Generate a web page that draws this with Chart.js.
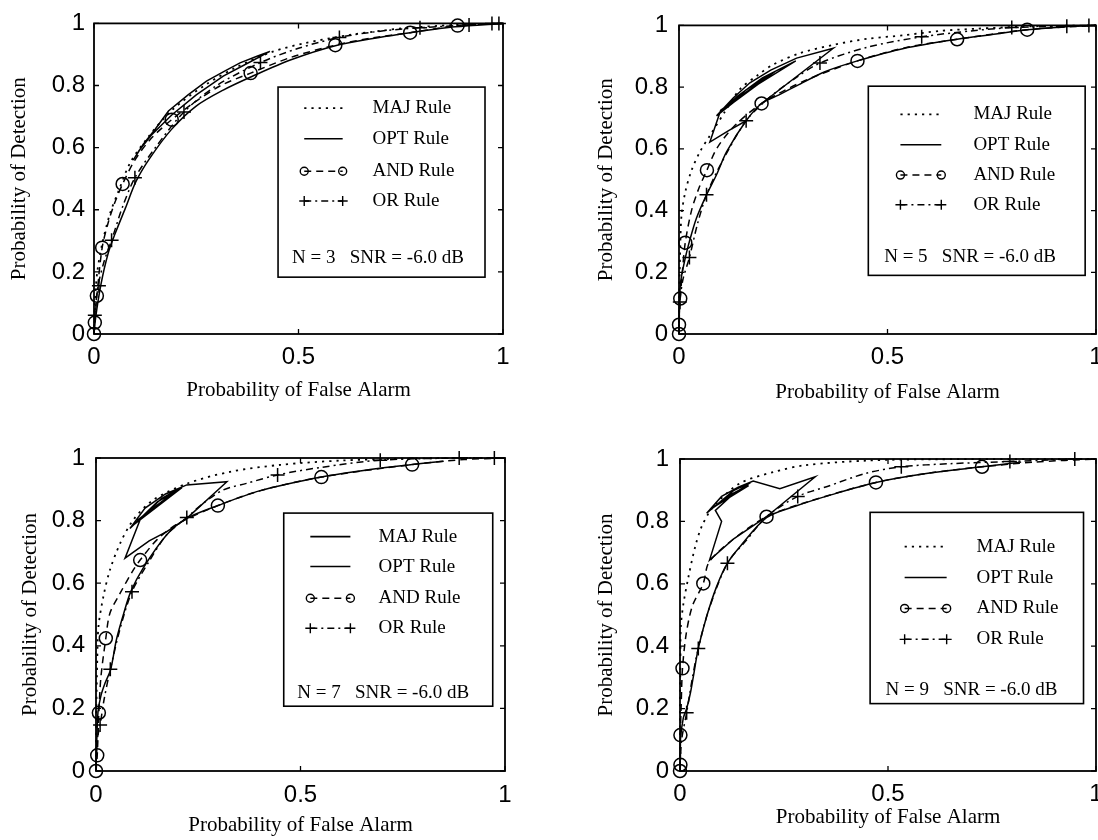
<!DOCTYPE html>
<html><head><meta charset="utf-8">
<script src="https://cdn.jsdelivr.net/npm/chart.js@4.4.1/dist/chart.umd.min.js"></script>
<style>
html,body{margin:0;padding:0;background:#fff;overflow:hidden;width:1098px;height:840px;position:relative;}
canvas{position:absolute;}
</style></head><body>
<canvas id="p1" width="549" height="420" style="left:0;top:0"></canvas>
<canvas id="p2" width="572" height="420" style="left:549px;top:0"></canvas>
<canvas id="p3" width="549" height="420" style="left:0;top:420px"></canvas>
<canvas id="p4" width="572" height="420" style="left:549px;top:420px"></canvas>
<script>
// ---------- tick labels & text ----------
const xTickLabels = ['0', '0.5', '1'];
const yTickLabels = ['0', '0.2', '0.4', '0.6', '0.8', '1'];
const xAxisTitle = 'Probability of False Alarm';
const yAxisTitle = 'Probability of Detection';
const legendLabels = ['MAJ Rule', 'OPT Rule', 'AND Rule', 'OR Rule'];
const noteLabels = ['N = 3   SNR = -6.0 dB', 'N = 5   SNR = -6.0 dB', 'N = 7   SNR = -6.0 dB', 'N = 9   SNR = -6.0 dB'];

// ---------- N = 3 ----------
const maj3 = [[0,0],[0.002,0.1],[0.008,0.2],[0.02,0.29],[0.039,0.387],[0.06,0.46],[0.088,0.55],[0.13,0.63],[0.19,0.72],[0.27,0.8],[0.35,0.86],[0.437,0.909],[0.514,0.936],[0.626,0.963],[0.754,0.984],[0.883,0.995],[1,1]];
const opt3Curve = [[0,0],[0.004,0.053],[0.017,0.16],[0.034,0.257],[0.051,0.321],[0.077,0.406],[0.103,0.492],[0.137,0.567],[0.189,0.658],[0.249,0.733],[0.317,0.786],[0.386,0.829],[0.48,0.882],[0.59,0.928],[0.694,0.954],[0.773,0.97],[0.883,0.989],[1,1]];
const opt3Loop = [[0.096,0.56],[0.12,0.61],[0.15,0.66],[0.182,0.718],[0.23,0.77],[0.275,0.814],[0.317,0.845],[0.357,0.873],[0.4,0.895],[0.43,0.91],[0.38,0.875],[0.316,0.83],[0.25,0.77],[0.19,0.705],[0.14,0.64],[0.11,0.59],[0.096,0.56]];
const and3Line = [[0,0],[0.002,0.037],[0.007,0.123],[0.02,0.278],[0.035,0.36],[0.05,0.42],[0.07,0.483],[0.1,0.56],[0.14,0.63],[0.19,0.69],[0.25,0.75],[0.31,0.8],[0.383,0.84],[0.48,0.89],[0.59,0.93],[0.68,0.953],[0.773,0.97],[0.889,0.993],[1,1]];
const and3Marks = [[0,0],[0.002,0.037],[0.007,0.123],[0.02,0.278],[0.07,0.483],[0.19,0.69],[0.383,0.84],[0.59,0.93],[0.773,0.97],[0.889,0.993]];
const or3Line = [[0,0],[0.002,0.06],[0.01,0.155],[0.025,0.235],[0.043,0.302],[0.07,0.41],[0.1,0.503],[0.15,0.6],[0.22,0.715],[0.3,0.8],[0.407,0.874],[0.5,0.92],[0.6,0.955],[0.7,0.975],[0.797,0.986],[0.917,0.995],[0.973,1],[1,1]];
const or3Marks = [[0.002,0.06],[0.012,0.155],[0.043,0.302],[0.1,0.503],[0.22,0.715],[0.407,0.874],[0.6,0.955],[0.797,0.986],[0.917,0.995],[0.973,1],[0.99,1]];

// ---------- N = 5 ----------
const maj5 = [[0,0],[0.001,0.15],[0.003,0.28],[0.006,0.384],[0.015,0.46],[0.03,0.53],[0.05,0.59],[0.075,0.645],[0.11,0.72],[0.146,0.793],[0.19,0.84],[0.226,0.873],[0.29,0.91],[0.37,0.937],[0.454,0.957],[0.539,0.968],[0.625,0.982],[0.71,0.989],[0.85,0.997],[1,1]];
const opt5Curve = [[0,0],[0.001,0.1],[0.004,0.17],[0.014,0.24],[0.025,0.3],[0.042,0.376],[0.066,0.451],[0.09,0.516],[0.114,0.59],[0.161,0.691],[0.198,0.747],[0.24,0.775],[0.283,0.805],[0.35,0.85],[0.428,0.885],[0.539,0.925],[0.667,0.955],[0.76,0.972],[0.835,0.986],[0.923,0.995],[1,1]];
const opt5Loop = [[0.198,0.747],[0.37,0.926],[0.282,0.894],[0.22,0.855],[0.17,0.814],[0.13,0.765],[0.09,0.707],[0.13,0.75],[0.19,0.81],[0.25,0.86],[0.28,0.885],[0.2,0.83],[0.14,0.77],[0.1,0.72],[0.16,0.79],[0.23,0.85],[0.1,0.725],[0.074,0.622],[0.12,0.66],[0.161,0.691]];
const and5Line = [[0,0],[0,0.03],[0.003,0.115],[0.008,0.2],[0.015,0.296],[0.03,0.4],[0.047,0.47],[0.067,0.531],[0.09,0.6],[0.13,0.67],[0.198,0.747],[0.3,0.82],[0.428,0.885],[0.55,0.93],[0.667,0.955],[0.835,0.986],[1,1]];
const and5Marks = [[0,0],[0,0.03],[0.003,0.115],[0.015,0.296],[0.067,0.531],[0.198,0.747],[0.428,0.885],[0.667,0.955],[0.835,0.986]];
const or5Line = [[0,0],[0.002,0.104],[0.01,0.18],[0.025,0.248],[0.045,0.36],[0.066,0.451],[0.1,0.55],[0.161,0.691],[0.22,0.77],[0.28,0.83],[0.338,0.878],[0.454,0.93],[0.582,0.963],[0.7,0.982],[0.798,0.993],[0.93,0.997],[1,1]];
const or5Marks = [[0.002,0.104],[0.025,0.248],[0.066,0.451],[0.161,0.691],[0.338,0.878],[0.582,0.963],[0.798,0.993],[0.93,0.997],[0.983,1]];

// ---------- N = 7 ----------
const maj7 = [[0,0],[0.001,0.2],[0.003,0.35],[0.006,0.461],[0.018,0.557],[0.034,0.642],[0.059,0.727],[0.091,0.802],[0.14,0.866],[0.222,0.918],[0.328,0.956],[0.45,0.978],[0.6,0.992],[0.75,0.998],[0.9,1],[1,1]];
const opt7Curve = [[0,0],[0.002,0.1],[0.005,0.19],[0.012,0.24],[0.022,0.28],[0.036,0.325],[0.05,0.42],[0.067,0.5],[0.085,0.573],[0.116,0.65],[0.173,0.755],[0.222,0.807],[0.298,0.848],[0.4,0.895],[0.551,0.939],[0.67,0.963],[0.773,0.979],[0.85,0.99]];
const opt7Loop = [[0.222,0.807],[0.32,0.924],[0.222,0.914],[0.17,0.885],[0.12,0.84],[0.083,0.775],[0.15,0.86],[0.21,0.905],[0.09,0.785],[0.16,0.87],[0.2,0.9],[0.1,0.8],[0.15,0.85],[0.11,0.81],[0.071,0.68],[0.13,0.735],[0.173,0.765],[0.222,0.807]];
const and7Line = [[0,0],[0.003,0.05],[0.007,0.186],[0.012,0.3],[0.024,0.424],[0.034,0.504],[0.059,0.568],[0.091,0.642],[0.108,0.674],[0.15,0.74],[0.2,0.79],[0.298,0.848],[0.4,0.895],[0.551,0.939],[0.773,0.979],[0.9,0.995],[1,1]];
const and7Marks = [[0,0],[0.003,0.05],[0.007,0.186],[0.024,0.424],[0.108,0.674],[0.298,0.848],[0.551,0.939],[0.773,0.979]];
const or7Line = [[0,0],[0.003,0.1],[0.01,0.147],[0.02,0.23],[0.035,0.325],[0.06,0.46],[0.088,0.573],[0.13,0.67],[0.173,0.755],[0.222,0.81],[0.262,0.855],[0.311,0.898],[0.368,0.919],[0.444,0.946],[0.55,0.97],[0.695,0.993],[0.888,1],[0.974,1],[1,1]];
const or7Marks = [[0.01,0.147],[0.035,0.325],[0.088,0.573],[0.222,0.81],[0.444,0.946],[0.695,0.993],[0.888,1],[0.974,1]];

// ---------- N = 9 ----------
const maj9 = [[0,0],[0,0.2],[0.001,0.35],[0.002,0.463],[0.008,0.534],[0.02,0.62],[0.036,0.716],[0.052,0.783],[0.08,0.847],[0.144,0.922],[0.224,0.958],[0.3,0.98],[0.45,0.995],[0.6,0.999],[1,1]];
const opt9Curve = [[0,0],[0.001,0.1],[0.008,0.17],[0.016,0.2],[0.025,0.25],[0.032,0.302],[0.044,0.393],[0.064,0.495],[0.088,0.591],[0.114,0.666],[0.144,0.719],[0.208,0.812],[0.28,0.85],[0.363,0.885],[0.471,0.925],[0.6,0.955],[0.726,0.975],[0.82,0.99]];
const opt9Loop = [[0.208,0.815],[0.325,0.943],[0.24,0.905],[0.176,0.929],[0.14,0.91],[0.1,0.88],[0.064,0.826],[0.13,0.9],[0.17,0.925],[0.07,0.835],[0.12,0.885],[0.165,0.915],[0.08,0.845],[0.13,0.89],[0.085,0.835],[0.1,0.8],[0.071,0.676],[0.13,0.745],[0.208,0.815]];
const and9Line = [[0,0],[0.001,0.02],[0.001,0.115],[0.003,0.22],[0.006,0.329],[0.015,0.44],[0.03,0.53],[0.056,0.601],[0.07,0.67],[0.13,0.745],[0.208,0.815],[0.3,0.86],[0.471,0.925],[0.6,0.955],[0.726,0.975],[0.85,0.99],[1,1]];
const and9Marks = [[0,0],[0.001,0.02],[0.001,0.115],[0.006,0.329],[0.056,0.601],[0.208,0.815],[0.471,0.925],[0.726,0.975]];
const or9Line = [[0,0],[0.004,0.1],[0.016,0.187],[0.03,0.3],[0.044,0.393],[0.07,0.52],[0.114,0.666],[0.16,0.74],[0.208,0.815],[0.283,0.88],[0.354,0.912],[0.447,0.954],[0.532,0.975],[0.65,0.985],[0.793,0.992],[0.949,1],[1,1]];
const or9Marks = [[0.016,0.187],[0.044,0.393],[0.114,0.666],[0.283,0.88],[0.532,0.975],[0.793,0.992],[0.949,1]];

// ---------- layout of the four panels ----------
const panels = [
  {id:'p1', w:549, h:420, area:{l:94,r:503,t:22,b:334}, padL:0, yTitleX:19, xTitleY:390, yPad:9, xPad:9,
   s:{maj:maj3,optCurve:opt3Curve,optLoop:opt3Loop,andLine:and3Line,andMarks:and3Marks,orLine:or3Line,orMarks:or3Marks},
   legend:{box:[0.45,0.956,0.183,0.795], rows:[0.727,0.629,0.524,0.428], sample:[0.514,0.608], textX:0.681, note:[0.484,0.246], noteText:noteLabels[0], solid:[]}},
  {id:'p2', w:572, h:420, area:{l:130,r:547,t:22,b:334}, padL:30, yTitleX:57, xTitleY:392, yPad:11, xPad:9,
   s:{maj:maj5,optCurve:opt5Curve,optLoop:opt5Loop,andLine:and5Line,andMarks:and5Marks,orLine:or5Line,orMarks:or5Marks},
   legend:{box:[0.454,0.974,0.19,0.803], rows:[0.712,0.613,0.515,0.419], sample:[0.531,0.629], textX:0.706, note:[0.492,0.248], noteText:noteLabels[1], solid:[]}},
  {id:'p3', w:549, h:420, area:{l:96,r:505,t:38,b:351}, padL:0, yTitleX:30, xTitleY:405, yPad:11, xPad:10,
   s:{maj:maj7,optCurve:opt7Curve,optLoop:opt7Loop,andLine:and7Line,andMarks:and7Marks,orLine:or7Line,orMarks:or7Marks},
   legend:{box:[0.459,0.970,0.207,0.824], rows:[0.749,0.653,0.552,0.456], sample:[0.524,0.622], textX:0.691, note:[0.492,0.248], noteText:noteLabels[2], solid:[0]}},
  {id:'p4', w:572, h:420, area:{l:131,r:547,t:39,b:351}, padL:30, yTitleX:57, xTitleY:397, yPad:11, xPad:9,
   s:{maj:maj9,optCurve:opt9Curve,optLoop:opt9Loop,andLine:and9Line,andMarks:and9Marks,orLine:or9Line,orMarks:or9Marks},
   legend:{box:[0.457,0.970,0.216,0.829], rows:[0.719,0.62,0.521,0.422], sample:[0.54,0.641], textX:0.713, note:[0.494,0.261], noteText:noteLabels[3], solid:[]}}
];

const TICK_FONT = {family:'"Liberation Sans", Arial, sans-serif', size:24};
const TITLE_FONT = {family:'"Liberation Serif", "Times New Roman", serif', size:21};
const LEGEND_FONT = '19px "Liberation Serif", "Times New Roman", serif';

const pts = a => a.map(p => ({x:p[0], y:p[1]}));

function makeDatasets(s){
  const list = [
    {data:pts(s.maj), borderDash:[2.2,5], borderWidth:1.8, legendRow:0, tension:0.3},
    {data:pts(s.optCurve), borderWidth:1.5, legendRow:1, tension:0.3},
    {data:pts(s.optLoop), borderWidth:1.5, tension:0},
    {data:pts(s.andLine), borderDash:[7,5], borderWidth:1.5, legendRow:2, tension:0.3},
    {data:pts(s.andMarks), showLine:false, pointStyle:'circle', pointRadius:6.5, legendMark:2},
    {data:pts(s.orLine), borderDash:[7,4,2,4], borderWidth:1.5, legendRow:3, tension:0.3},
    {data:pts(s.orMarks), showLine:false, pointStyle:'cross', pointRadius:7, legendMark:3}
  ];
  return list.map(d => Object.assign({
    borderColor:'#000', backgroundColor:'rgba(0,0,0,0)',
    pointBorderColor:'#000', pointBackgroundColor:'rgba(0,0,0,0)',
    pointBorderWidth:1.5, pointRadius:0, showLine:d.showLine !== false,
    clip:false, fill:false
  }, d));
}

const framePlugin = {
  id:'frame',
  afterDatasetsDraw(chart){
    const {ctx, chartArea:ca, scales:{x, y}} = chart;
    ctx.save();
    ctx.setLineDash([]);
    ctx.strokeStyle = '#000';
    ctx.lineWidth = 1.8;
    ctx.strokeRect(ca.left, ca.top, ca.right - ca.left, ca.bottom - ca.top);
    const t = 5;
    ctx.lineWidth = 1.3;
    ctx.beginPath();
    x.ticks.forEach(tk => {
      const px = x.getPixelForValue(tk.value);
      ctx.moveTo(px, ca.bottom); ctx.lineTo(px, ca.bottom - t);
      ctx.moveTo(px, ca.top); ctx.lineTo(px, ca.top + t);
    });
    y.ticks.forEach(tk => {
      const py = y.getPixelForValue(tk.value);
      ctx.moveTo(ca.left, py); ctx.lineTo(ca.left + t, py);
      ctx.moveTo(ca.right, py); ctx.lineTo(ca.right - t, py);
    });
    ctx.stroke();
    ctx.restore();
  }
};

const boxLegendPlugin = {
  id:'boxLegend',
  afterDraw(chart, args, o){
    const {ctx, chartArea:ca} = chart;
    const X = f => ca.left + f * (ca.right - ca.left);
    const Y = f => ca.bottom - f * (ca.bottom - ca.top);
    ctx.save();
    const x0 = X(o.box[0]), x1 = X(o.box[1]), y0 = Y(o.box[3]), y1 = Y(o.box[2]);
    ctx.fillStyle = '#fff';
    ctx.fillRect(x0, y0, x1 - x0, y1 - y0);
    ctx.strokeStyle = '#000';
    ctx.lineWidth = 1.6;
    ctx.setLineDash([]);
    ctx.strokeRect(x0, y0, x1 - x0, y1 - y0);
    ctx.font = LEGEND_FONT;
    ctx.textBaseline = 'middle';
    ctx.textAlign = 'left';
    const dsets = chart.data.datasets;
    o.rows.forEach((fy, i) => {
      const yy = Y(fy), a = X(o.sample[0]), b = X(o.sample[1]);
      const line = dsets.find(d => d.legendRow === i);
      const mark = dsets.find(d => d.legendMark === i);
      ctx.strokeStyle = '#000';
      ctx.lineWidth = line.borderWidth;
      ctx.setLineDash(o.solid.includes(i) ? [] : (line.borderDash || []));
      ctx.beginPath(); ctx.moveTo(a, yy); ctx.lineTo(b, yy); ctx.stroke();
      ctx.setLineDash([]);
      if (mark) {
        ctx.lineWidth = 1.4;
        [a, b].forEach(px => {
          ctx.beginPath();
          if (mark.pointStyle === 'circle') {
            ctx.arc(px, yy, 4, 0, Math.PI * 2);
          } else {
            ctx.moveTo(px - 5, yy); ctx.lineTo(px + 5, yy);
            ctx.moveTo(px, yy - 5); ctx.lineTo(px, yy + 5);
          }
          ctx.stroke();
        });
      }
      ctx.fillStyle = '#000';
      ctx.fillText(legendLabels[i], X(o.textX), yy);
    });
    ctx.fillText(o.noteText, X(o.note[0]), Y(o.note[1]));
    ctx.restore();
  }
};

panels.forEach(p => {
  const lh = TITLE_FONT.size * 1.2;
  new Chart(document.getElementById(p.id), {
    type:'scatter',
    data:{datasets:makeDatasets(p.s)},
    options:{
      responsive:false, animation:false, events:[],
      layout:{padding:{left:p.padL, right:p.w - p.area.r, top:p.area.t, bottom:0}},
      plugins:{legend:{display:false}, tooltip:{enabled:false}, boxLegend:p.legend},
      scales:{
        x:{type:'linear', min:0, max:1,
           afterFit:sc => { sc.height = p.h - p.area.b; },
           ticks:{stepSize:0.5, autoSkip:false, maxRotation:0, padding:p.xPad, color:'#000', font:TICK_FONT,
                  callback:(v, i) => xTickLabels[i]},
           grid:{display:false, drawTicks:false}, border:{display:false},
           title:{display:true, text:xAxisTitle, color:'#000', font:TITLE_FONT,
                  padding:{top:0, bottom:p.h - p.xTitleY - lh / 2}}},
        y:{type:'linear', min:0, max:1,
           afterFit:sc => { sc.width = p.area.l - p.padL; },
           ticks:{stepSize:0.2, autoSkip:false, padding:p.yPad, color:'#000', font:TICK_FONT,
                  callback:(v, i) => yTickLabels[i]},
           grid:{display:false, drawTicks:false}, border:{display:false},
           title:{display:true, text:yAxisTitle, color:'#000', font:TITLE_FONT,
                  padding:{top:p.yTitleX - p.padL - lh / 2, bottom:0}}}
      }
    },
    plugins:[framePlugin, boxLegendPlugin]
  });
});
</script>
</body></html>
